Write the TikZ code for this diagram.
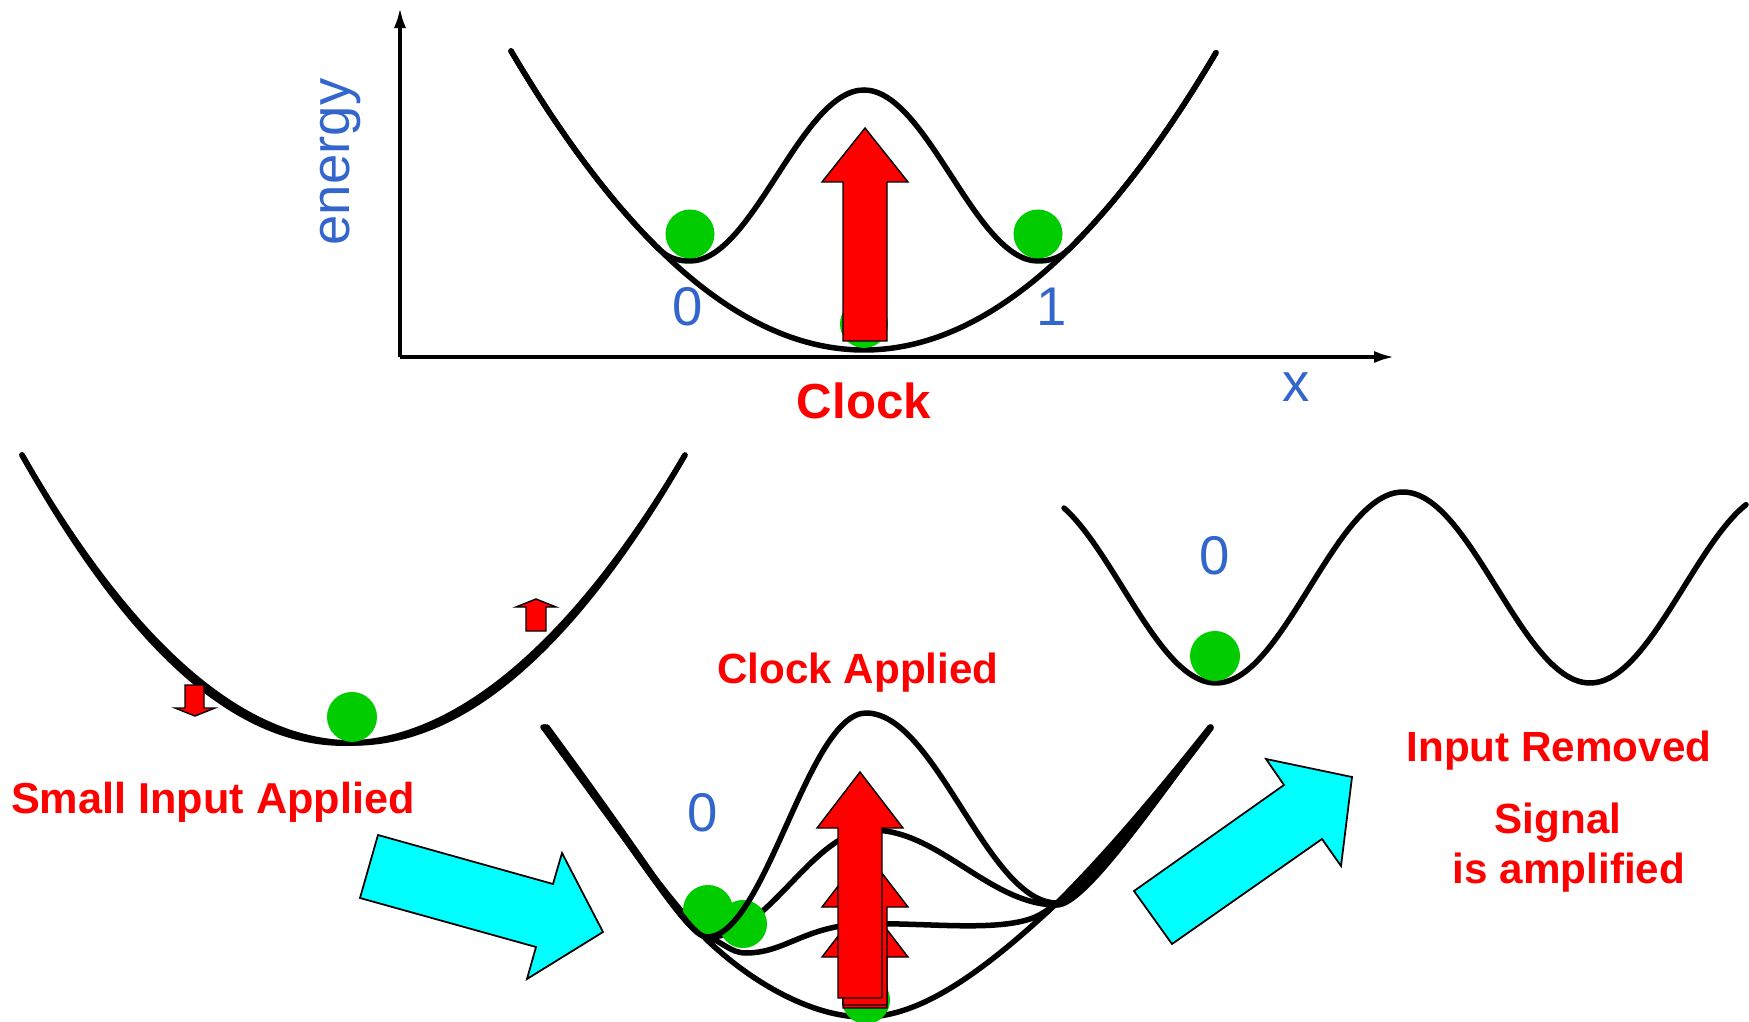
\documentclass[tikz,border=0pt]{standalone}
\usepackage{fontspec}
\setmainfont{Liberation Sans}
\usetikzlibrary{arrows.meta}
\definecolor{lblue}{RGB}{51,102,204}
\definecolor{ballgreen}{RGB}{0,204,0}
\definecolor{cyanfill}{RGB}{0,255,255}
\begin{document}
\begin{tikzpicture}[x=0.01cm,y=-0.01cm,
  curve/.style={line width=0.055cm, line join=round, line cap=round},
  ball/.style={fill=ballgreen, draw=none},
  redarrow/.style={fill=red, draw=black, line width=0.4pt, line join=miter},
  cyanarrow/.style={fill=cyanfill, draw=black, line width=0.5pt, line join=miter},
  redlab/.style={text=red, font=\bfseries\fontsize{12}{14}\selectfont, inner sep=0pt, anchor=base},
  bluelab/.style={text=lblue, font=\fontsize{15.5}{18}\selectfont, inner sep=0pt},
  axisline/.style={line width=0.045cm, -{Latex[length=0.22cm,width=0.12cm]}}
]
\useasboundingbox (0,0) rectangle (1749,1022);

% ---------- top panel ----------
\coordinate (origin) at (400,357);
\coordinate (ytip) at (400,6);
\coordinate (xtip) at (1396,357);
\draw[axisline] (origin) -- (ytip);
\draw[axisline] (origin) -- (xtip);

\draw[curve] plot[domain=-3.53:3.52, samples=120, smooth] ({864+100*\x},{350-24*\x*\x});
\draw[curve] plot[domain=-3.53:-2.05, samples=30, smooth] ({864+100*\x},{350-24*\x*\x})
  .. controls (669,259) and (680,261) .. (690,261)
  .. controls (753,261) and (801,90) .. (864,90)
  .. controls (927,90) and (975,261) .. (1038,261)
  .. controls (1048,261) and (1059,259) .. (1069,249)
  -- plot[domain=2.05:3.52, samples=30, smooth] ({864+100*\x},{350-24*\x*\x});

\fill[ball] (690,234) circle[radius=0.245cm];
\fill[ball] (1038,234) circle[radius=0.245cm];
\fill[ball] (864,324) circle[radius=0.24cm];
\draw[redarrow] (843,341) -- (843,182) -- (822,182) -- (865,128) -- (908,182) -- (887,182) -- (887,341) -- cycle;

\node[bluelab, rotate=90, anchor=base] (energy) at (349,162) {energy};
\node[bluelab] (zeroA) at (688,307) {0};
\node[bluelab] (oneA) at (1052,307) {1};
\node[bluelab] (xlab) at (1296,387) {x};
\node[redlab, font=\bfseries\fontsize{14}{16}\selectfont] (clock) at (864,419) {Clock};

% ---------- bottom left ----------
\draw[curve] plot[domain=-3.315:3.315, samples=120, smooth] ({353.5+100*\x},{743-26.21*\x*\x});
\draw[curve] plot[domain=-3.315:3.315, samples=120, smooth] ({353.5+100*\x},{743-26.21*\x*\x-5*sin(54.3*\x)});
\fill[ball] (352,717) circle[radius=0.25cm];
\draw[redarrow] (185,685) -- (204,685) -- (204,708) -- (215,708) -- (195,716) -- (175,708) -- (185,708) -- cycle;
\draw[redarrow] (526,631) -- (526,607) -- (516,607) -- (536,599) -- (556,607) -- (546,607) -- (546,631) -- cycle;
\node[redlab, font=\bfseries\fontsize{12.3}{14}\selectfont] (small) at (213,813) {Small Input Applied};

% ---------- bottom middle ----------
% middle curve (partly hidden by the balls)
\draw[curve] (545,727) .. controls (655,877) and (688,937) .. (709,937)
  .. controls (769,937) and (812,830) .. (872,830)
  .. controls (939,830) and (990,905) .. (1057,905)
  .. controls (1085,905) and (1158,797) .. (1210,728);
% flat curve
\draw[curve] (545,727) .. controls (650,872) and (690,937) .. (707,937)
  .. controls (722,941) and (730,953) .. (746,953)
  .. controls (785,953) and (805,926) .. (862,924)
  .. controls (920,922) and (990,932) .. (1030,919)
  .. controls (1045,914) and (1052,905) .. (1059,903)
  .. controls (1090,880) and (1160,797) .. (1211,728);
% parabola
\draw[curve] (543,727) .. controls (610,818) and (660,890) .. (707,940)
  .. controls (760,990) and (820,1018) .. (866,1017)
  .. controls (920,1016) and (980,975) .. (1057,903)
  .. controls (1110,850) and (1160,790) .. (1210,727);
\fill[ball] (743,924) circle[radius=0.24cm];
\fill[ball] (708,910) circle[radius=0.25cm];
\fill[ball] (866,1000) circle[radius=0.24cm];
% tall double well
\draw[curve] (547,727) .. controls (660,880) and (690,937) .. (707,937)
  .. controls (765,937) and (808,713) .. (866,713)
  .. controls (936,713) and (987,903) .. (1057,903)
  .. controls (1085,903) and (1160,795) .. (1211,727);

\draw[redarrow] (843,1008) -- (843,957) -- (822,957) -- (865,901) -- (908,957) -- (887,957) -- (887,1008) -- cycle;
\draw[redarrow] (843,1005) -- (843,907) -- (822,907) -- (865,851) -- (908,907) -- (887,907) -- (887,1005) -- cycle;
\draw[redarrow] (838,998) -- (838,828) -- (817,828) -- (860,772) -- (903,828) -- (882,828) -- (882,998) -- cycle;

\node[bluelab] (zeroB) at (703,813) {0};
\node[redlab] (clockapp) at (858,683) {Clock Applied};

% ---------- cyan arrows ----------
\draw[cyanarrow] (378,835) -- (553,884) -- (562,853) -- (603,932) -- (527,979) -- (536,947) -- (360,898) -- cycle;
\draw[cyanarrow] (1134,891) -- (1284,785) -- (1266,759) -- (1352,777) -- (1341,866) -- (1322,839) -- (1172,944) -- cycle;

% ---------- bottom right ----------
\draw[curve] plot[domain=1064:1746, samples=160, smooth] (\x,{587.5+95.5*cos(0.96257*(\x-1216))});
\fill[ball] (1215,656) circle[radius=0.25cm];
\node[bluelab] (zeroC) at (1215,556) {0};
\node[redlab] (removed) at (1559,761) {Input Removed};
\node[redlab] (signal) at (1558,833) {Signal};
\node[redlab] (ampl) at (1569,883) {is amplified};
\end{tikzpicture}
\end{document}
